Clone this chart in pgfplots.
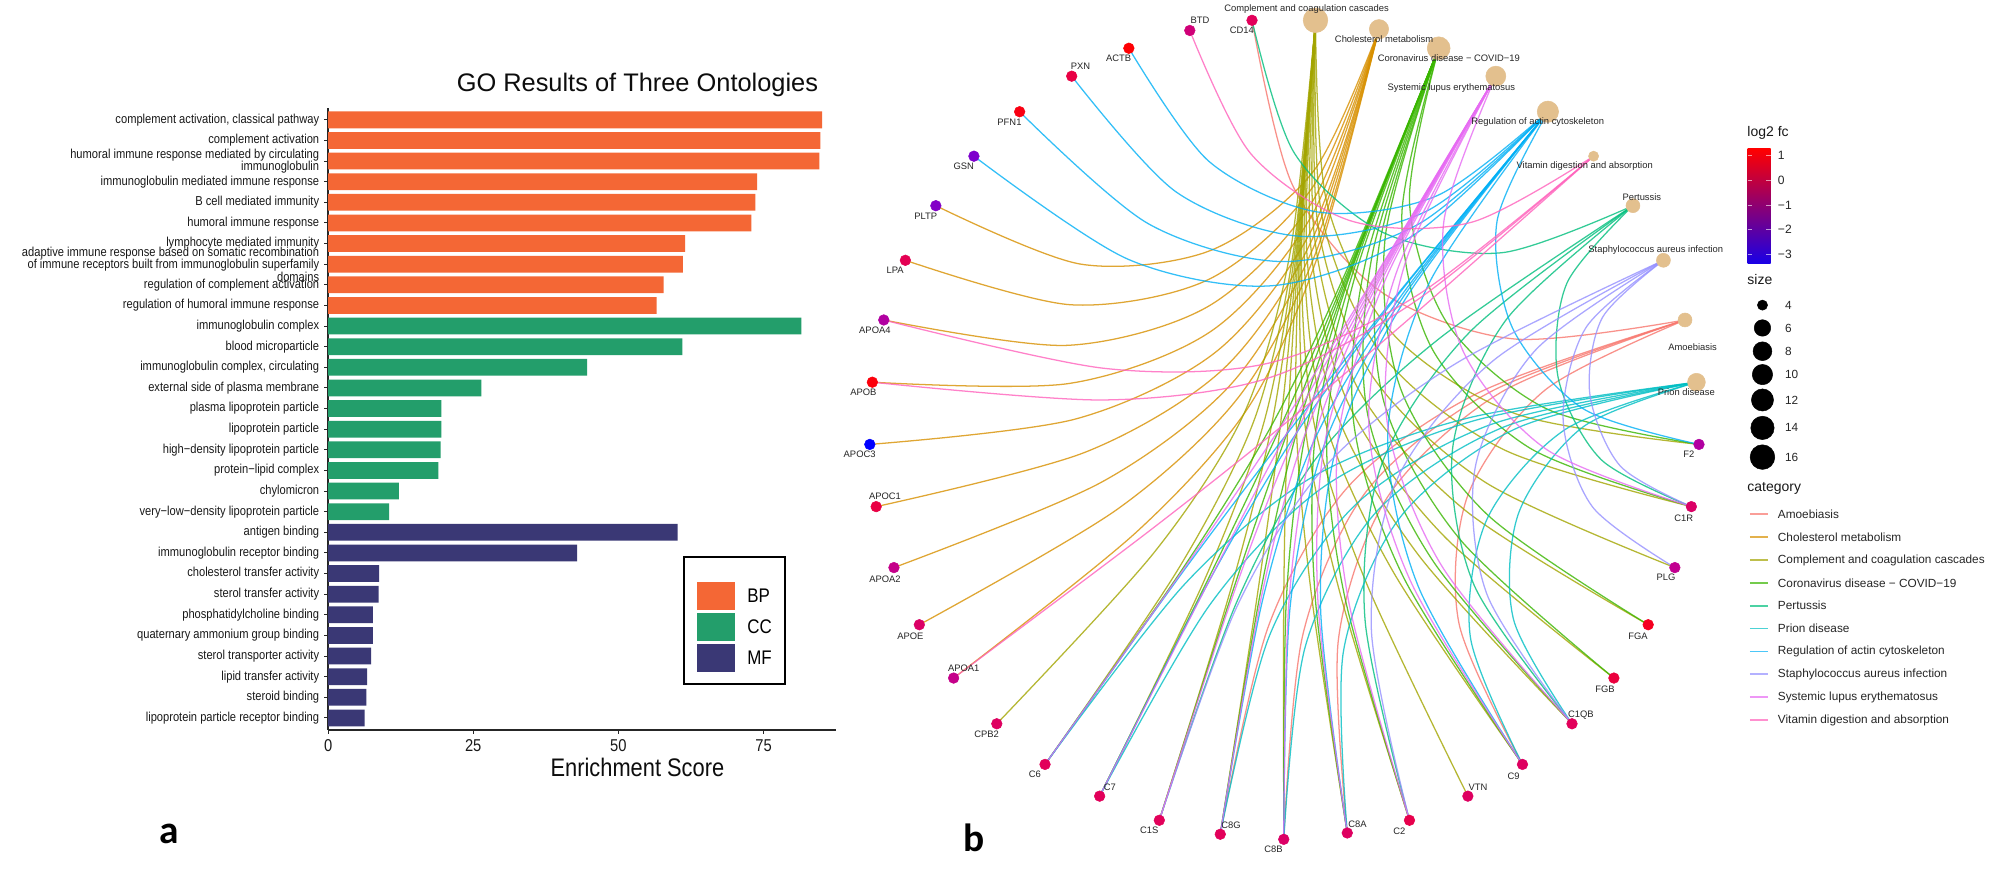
\documentclass[border=0pt]{standalone}
\usepackage{fontspec}
\usepackage{pgfplots}
\pgfplotsset{compat=1.18}
\setmainfont{Liberation Sans}
\newfontfamily\cond[FakeStretch=0.86]{Liberation Sans}
\newfontfamily\carl{Carlito}
\definecolor{cBP}{HTML}{F46735}\definecolor{cCC}{HTML}{239E6B}\definecolor{cMF}{HTML}{3A3875}
\definecolor{cAM}{HTML}{F8766D}\definecolor{cCH}{HTML}{D89000}\definecolor{cCO}{HTML}{A3A500}
\definecolor{cCV}{HTML}{39B600}\definecolor{cPT}{HTML}{00BF7D}\definecolor{cPR}{HTML}{00BFC4}
\definecolor{cAC}{HTML}{00B0F6}\definecolor{cST}{HTML}{9590FF}\definecolor{cSL}{HTML}{E76BF3}
\definecolor{cVT}{HTML}{FF62BC}\definecolor{cTan}{HTML}{E3C08E}
\pgfplotsset{
  edge/.style={no markers,smooth,line width=1pt,opacity=.8},
  eAM/.style={edge,color=cAM},eCH/.style={edge,color=cCH},eCO/.style={edge,color=cCO},
  eCV/.style={edge,color=cCV},ePT/.style={edge,color=cPT},ePR/.style={edge,color=cPR},
  eAC/.style={edge,color=cAC},eST/.style={edge,color=cST},eSL/.style={edge,color=cSL},
  eVT/.style={edge,color=cVT},
  catn/.style={only marks,mark=*,color=cTan,mark options={draw=cTan,fill=cTan}},
}
\newcommand{\Lb}[3]{\node[font=\fontsize{7.4}{8}\selectfont,inner sep=0pt,text=black!85] at (axis cs:#1,#2) {#3};}
\newcommand{\Lg}[3]{\node[font=\fontsize{9.3}{10}\selectfont,anchor=west,inner sep=0pt,text=black!85] at (axis cs:#1,#2) {#3};}
\newcommand{\Ky}[3]{\draw[line width=1.3pt,color=#1,opacity=.7] (axis cs:1378,#2) -- (axis cs:1392.7,#2); \Lg{1400}{#2}{#3}}
\begin{document}
\begin{tikzpicture}[x=1pt,y=1pt]
\path[use as bounding box,fill=white] (0,0) rectangle (1568,700);
% ---------- panel a
\begin{axis}[
  at={(258.4pt,125.2pt)},anchor=south west,scale only axis,width=399.6pt,height=489.8pt,
  xmin=0,xmax=87.4,ymin=-0.58,ymax=29.58,
  axis x line*=bottom,axis y line*=left,
  axis line style={-,line width=1.3pt,color=black!85},
  tick style={color=black!85,line width=.8pt},tick align=outside,major tick length=3pt,
  xtick={0,25,50,75},ytick={0,...,29},
  /pgf/number format/assume math mode=true,
  xticklabel style={font=\cond\fontsize{13.5}{14}\selectfont,text=black!90,yshift=-1pt},
  yticklabel style={font=\cond\fontsize{10.2}{9.8}\selectfont,align=right,text=black!90,xshift=-.5pt},
  yticklabels={lipoprotein particle receptor binding,steroid binding,lipid transfer activity,sterol transporter activity,quaternary ammonium group binding,phosphatidylcholine binding,sterol transfer activity,cholesterol transfer activity,immunoglobulin receptor binding,antigen binding,very−low−density lipoprotein particle,chylomicron,protein−lipid complex,high−density lipoprotein particle,lipoprotein particle,plasma lipoprotein particle,external side of plasma membrane,{immunoglobulin complex, circulating},blood microparticle,immunoglobulin complex,regulation of humoral immune response,regulation of complement activation,{adaptive immune response based on somatic recombination\\of immune receptors built from immunoglobulin superfamily\\domains},lymphocyte mediated immunity,humoral immune response,B cell mediated immunity,immunoglobulin mediated immune response,{humoral immune response mediated by circulating\\immunoglobulin},complement activation,{complement activation, classical pathway}},
  clip=false]
\addplot[xbar,bar width=13.2pt,bar shift=0pt,fill=cBP,draw=none] coordinates {
 (85.1,29)(84.8,28)(84.6,27)(73.9,26)(73.6,25)(72.9,24)(61.5,23)(61.1,22)(57.8,21)(56.6,20)};
\addplot[xbar,bar width=13.2pt,bar shift=0pt,fill=cCC,draw=none] coordinates {
 (81.5,19)(61,18)(44.6,17)(26.4,16)(19.5,15)(19.5,14)(19.4,13)(19,12)(12.2,11)(10.5,10)};
\addplot[xbar,bar width=13.2pt,bar shift=0pt,fill=cMF,draw=none] coordinates {
 (60.2,9)(42.9,8)(8.8,7)(8.7,6)(7.7,5)(7.7,4)(7.4,3)(6.7,2)(6.6,1)(6.3,0)};
\end{axis}
% ---------- panel b: network, coordinates measured from the centre of the ring
\begin{axis}[
  at={(0pt,0pt)},anchor=south west,scale only axis,width=1568pt,height=700pt,
  xmin=-1011,xmax=557,ymin=-339,ymax=361,y dir=reverse,axis lines=none,clip=false,
  colormap={fc}{rgb255(0pt)=(0,0,255) rgb255(137pt)=(125,0,205) rgb255(237pt)=(190,0,150) rgb255(337pt)=(226,0,90) rgb255(462pt)=(255,0,0)},
  point meta min=-3.37,point meta max=1.25]
% Amoebiasis
\addplot[eAM] coordinates {(-25,-323)(7,-193)(77,-109)(182,-72)(316,-87)};
\addplot[eAM] coordinates {(-50,318)(-12,154)(51,44)(154,-30)(316,-87)};
\addplot[eAM] coordinates {(0,322)(15,161)(65,48)(162,-30)(316,-87)};
\addplot[eAM] coordinates {(50,317)(43,165)(82,52)(171,-30)(316,-87)};
\addplot[eAM] coordinates {(188,263)(138,152)(145,51)(206,-32)(316,-87)};
% Cholesterol metabolism
\addplot[eCH] coordinates {(-274,-177)(-160,-131)(-57,-142)(24,-205)(75,-316)};
\addplot[eCH] coordinates {(-298,-134)(-168,-99)(-59,-119)(23,-192)(75,-316)};
\addplot[eCH] coordinates {(-315,-87)(-171,-67)(-59,-98)(23,-181)(75,-316)};
\addplot[eCH] coordinates {(-324,-38)(-169,-37)(-56,-79)(23,-171)(75,-316)};
\addplot[eCH] coordinates {(-326,11)(-164,-9)(-52,-63)(24,-162)(75,-316)};
\addplot[eCH] coordinates {(-321,60)(-156,17)(-47,-49)(24,-154)(75,-316)};
\addplot[eCH] coordinates {(-307,108)(-144,41)(-41,-37)(25,-148)(75,-316)};
\addplot[eCH] coordinates {(-287,153)(-131,62)(-35,-27)(26,-142)(75,-316)};
\addplot[eCH] coordinates {(-260,195)(-116,80)(-28,-18)(27,-138)(75,-316)};
% Complement and coagulation cascades
\addplot[eCO] coordinates {(-226,231)(-102,96)(-31,-14)(5,-140)(25,-323)};
\addplot[eCO] coordinates {(-188,263)(-83,109)(-23,-9)(7,-137)(25,-323)};
\addplot[eCO] coordinates {(-145,288)(-63,119)(-16,-5)(8,-135)(25,-323)};
\addplot[eCO] coordinates {(-98,307)(-42,126)(-10,-2)(9,-133)(25,-323)};
\addplot[eCO] coordinates {(-50,318)(-21,131)(-3,-1)(10,-133)(25,-323)};
\addplot[eCO] coordinates {(0,322)(0,132)(3,0)(11,-133)(25,-323)};
\addplot[eCO] coordinates {(50,317)(22,131)(10,-1)(12,-133)(25,-323)};
\addplot[eCO] coordinates {(99,307)(44,127)(17,-2)(13,-135)(25,-323)};
\addplot[eCO] coordinates {(145,288)(65,120)(24,-5)(14,-137)(25,-323)};
\addplot[eCO] coordinates {(188,263)(86,111)(32,-9)(16,-140)(25,-323)};
\addplot[eCO] coordinates {(227,231)(106,98)(41,-15)(18,-143)(25,-323)};
\addplot[eCO] coordinates {(260,195)(125,82)(50,-23)(21,-148)(25,-323)};
\addplot[eCO] coordinates {(287,153)(143,63)(59,-32)(24,-154)(25,-323)};
\addplot[eCO] coordinates {(308,108)(159,41)(69,-44)(27,-161)(25,-323)};
\addplot[eCO] coordinates {(321,60)(173,15)(78,-59)(30,-169)(25,-323)};
\addplot[eCO] coordinates {(327,11)(183,-13)(86,-76)(34,-179)(25,-323)};
% Coronavirus disease - COVID-19
\addplot[eCV] coordinates {(-188,263)(-79,108)(-9,-5)(49,-125)(122,-301)};
\addplot[eCV] coordinates {(-145,288)(-60,118)(-3,-2)(50,-124)(122,-301)};
\addplot[eCV] coordinates {(-98,307)(-40,126)(3,1)(51,-124)(122,-301)};
\addplot[eCV] coordinates {(-50,318)(-19,131)(10,2)(52,-124)(122,-301)};
\addplot[eCV] coordinates {(0,322)(2,134)(17,3)(53,-125)(122,-301)};
\addplot[eCV] coordinates {(50,317)(25,134)(25,2)(55,-126)(122,-301)};
\addplot[eCV] coordinates {(99,307)(48,131)(34,1)(58,-128)(122,-301)};
\addplot[eCV] coordinates {(188,263)(94,115)(55,-7)(65,-135)(122,-301)};
\addplot[eCV] coordinates {(227,231)(117,102)(66,-13)(70,-140)(122,-301)};
\addplot[eCV] coordinates {(260,195)(139,86)(79,-22)(75,-145)(122,-301)};
\addplot[eCV] coordinates {(287,153)(160,66)(92,-33)(80,-153)(122,-301)};
\addplot[eCV] coordinates {(321,60)(194,14)(117,-64)(93,-170)(122,-301)};
\addplot[eCV] coordinates {(327,11)(207,-17)(129,-84)(99,-181)(122,-301)};
% Pertussis
\addplot[ePT] coordinates {(-25,-323)(8,-219)(78,-156)(172,-140)(275,-177)};
\addplot[ePT] coordinates {(-98,307)(-37,135)(27,20)(122,-72)(275,-177)};
\addplot[ePT] coordinates {(99,307)(64,149)(77,27)(146,-77)(275,-177)};
\addplot[ePT] coordinates {(227,231)(150,122)(133,14)(175,-87)(275,-177)};
\addplot[ePT] coordinates {(321,60)(250,23)(216,-42)(223,-116)(275,-177)};
% Prion disease
\addplot[ePR] coordinates {(-188,263)(-78,121)(22,37)(146,-10)(325,-38)};
\addplot[ePR] coordinates {(-145,288)(-58,137)(32,44)(151,-8)(325,-38)};
\addplot[ePR] coordinates {(-50,318)(-11,161)(57,58)(164,-5)(325,-38)};
\addplot[ePR] coordinates {(0,322)(17,170)(73,64)(174,-3)(325,-38)};
\addplot[ePR] coordinates {(50,317)(47,174)(92,68)(184,-2)(325,-38)};
\addplot[ePR] coordinates {(188,263)(147,163)(160,70)(222,-1)(325,-38)};
\addplot[ePR] coordinates {(227,231)(181,149)(185,65)(236,-3)(325,-38)};
% Regulation of actin cytoskeleton
\addplot[eAC] coordinates {(-122,-301)(-59,-212)(27,-172)(121,-185)(208,-251)};
\addplot[eAC] coordinates {(-167,-279)(-85,-188)(12,-153)(113,-173)(208,-251)};
\addplot[eAC] coordinates {(-208,-251)(-107,-163)(0,-133)(107,-163)(208,-251)};
\addplot[eAC] coordinates {(-244,-216)(-123,-135)(-9,-114)(101,-153)(208,-251)};
\addplot[eAC] coordinates {(327,11)(236,-17)(180,-81)(168,-165)(208,-251)};
\addplot[eAC] coordinates {(188,263)(106,123)(82,2)(115,-117)(208,-251)};
\addplot[eAC] coordinates {(-188,263)(-77,108)(3,2)(86,-103)(208,-251)};
\addplot[eAC] coordinates {(-145,288)(-59,119)(8,5)(87,-103)(208,-251)};
\addplot[eAC] coordinates {(-50,318)(-17,135)(23,10)(91,-104)(208,-251)};
\addplot[eAC] coordinates {(0,322)(5,139)(32,11)(94,-105)(208,-251)};
\addplot[eAC] coordinates {(50,317)(29,140)(42,11)(98,-107)(208,-251)};
% Staphylococcus aureus infection
\addplot[eST] coordinates {(-98,307)(-37,139)(33,28)(136,-53)(299,-134)};
\addplot[eST] coordinates {(321,60)(265,28)(241,-29)(251,-89)(299,-134)};
\addplot[eST] coordinates {(227,231)(160,129)(151,28)(198,-63)(299,-134)};
\addplot[eST] coordinates {(99,307)(69,157)(89,39)(165,-55)(299,-134)};
\addplot[eST] coordinates {(308,108)(243,60)(220,-9)(238,-81)(299,-134)};
% Systemic lupus erythematosus
\addplot[eSL] coordinates {(321,60)(207,15)(141,-63)(126,-164)(167,-279)};
\addplot[eSL] coordinates {(227,231)(124,106)(81,-10)(96,-133)(167,-279)};
\addplot[eSL] coordinates {(-98,307)(-39,127)(9,4)(70,-114)(167,-279)};
\addplot[eSL] coordinates {(99,307)(51,134)(43,5)(81,-121)(167,-279)};
\addplot[eSL] coordinates {(-188,263)(-78,108)(-3,-2)(68,-115)(167,-279)};
\addplot[eSL] coordinates {(-145,288)(-59,119)(3,1)(69,-115)(167,-279)};
\addplot[eSL] coordinates {(-50,318)(-18,133)(16,5)(72,-115)(167,-279)};
\addplot[eSL] coordinates {(0,322)(4,136)(24,6)(74,-116)(167,-279)};
\addplot[eSL] coordinates {(50,317)(27,136)(33,6)(77,-118)(167,-279)};
\addplot[eSL] coordinates {(188,263)(100,119)(67,-3)(90,-128)(167,-279)};
% Vitamin digestion and absorption
\addplot[eVT] coordinates {(-74,-315)(-26,-218)(53,-165)(148,-164)(244,-216)};
\addplot[eVT] coordinates {(-315,-87)(-142,-49)(-12,-53)(106,-107)(244,-216)};
\addplot[eVT] coordinates {(-324,-38)(-143,-24)(-13,-41)(104,-102)(244,-216)};
\addplot[eVT] coordinates {(-260,195)(-107,80)(-2,-3)(100,-89)(244,-216)};
% pathway nodes
\addplot[catn,mark size=9.7pt] coordinates {(25,-323)};
\addplot[catn,mark size=7.6pt] coordinates {(75,-316)};
\addplot[catn,mark size=9pt] coordinates {(122,-301)};
\addplot[catn,mark size=7.9pt] coordinates {(167,-279)};
\addplot[catn,mark size=8.4pt] coordinates {(208,-251)};
\addplot[catn,mark size=4pt] coordinates {(244,-216)};
\addplot[catn,mark size=5.5pt] coordinates {(275,-177)};
\addplot[catn,mark size=5.5pt] coordinates {(299,-134)};
\addplot[catn,mark size=5.5pt] coordinates {(316,-87)};
\addplot[catn,mark size=7pt] coordinates {(325,-38)};
% gene nodes: x, y, log2 fc
\addplot[scatter,only marks,mark=*,mark size=4.2pt,scatter src=explicit,
  scatter/use mapped color={draw=mapped color,fill=mapped color}] table[meta=fc] {
x y fc
-25 -323 0
-74 -315 -0.5
-122 -301 1.2
-167 -279 0.3
-208 -251 1.0
-244 -216 -2
-274 -177 -1.9
-298 -134 0.1
-315 -87 -1.2
-324 -38 1.1
-326 11 -3.37
-321 60 0.3
-307 108 -0.8
-287 153 -0.2
-260 195 -0.8
-226 231 -0.1
-188 263 0
-145 288 0
-98 307 0
-50 318 0
0 322 -0.2
50 317 -0.1
99 307 0.2
145 288 -0.1
188 263 -0.1
227 231 0
260 195 0.4
287 153 0.8
308 108 -0.9
321 60 -0.2
327 11 -1.2
};
\end{axis}
% ---------- texts and keys, in the picture's own coordinates
\begin{axis}[
  at={(0pt,0pt)},anchor=south west,scale only axis,width=1568pt,height=700pt,
  xmin=0,xmax=1568,ymin=0,ymax=700,y dir=reverse,axis lines=none,clip=false]
\node[font=\fontsize{20}{22}\selectfont,inner sep=0pt,text=black!95] at (axis cs:502,67) {GO Results of Three Ontologies};
\node[font=\cond\fontsize{20}{22}\selectfont,inner sep=0pt,text=black!95] at (axis cs:502,604) {Enrichment Score};
\node[font=\carl\bfseries\fontsize{31}{32}\selectfont,inner sep=0pt] at (axis cs:133,657) {a};
\node[font=\carl\bfseries\fontsize{31}{32}\selectfont,inner sep=0pt] at (axis cs:767,660) {b};
% legend of panel a
\draw[line width=1.6pt,fill=white] (axis cs:539,439) rectangle (axis cs:618,539);
\fill[cBP] (axis cs:548.8,458.3) rectangle (axis cs:578.7,480.3);
\fill[cCC] (axis cs:548.8,482.4) rectangle (axis cs:578.7,504.5);
\fill[cMF] (axis cs:548.8,506.9) rectangle (axis cs:578.7,529);
\node[font=\cond\fontsize{15.5}{16}\selectfont,anchor=west,inner sep=0pt] at (axis cs:588.4,469.3) {BP};
\node[font=\cond\fontsize{15.5}{16}\selectfont,anchor=west,inner sep=0pt] at (axis cs:588.4,493.4) {CC};
\node[font=\cond\fontsize{15.5}{16}\selectfont,anchor=west,inner sep=0pt] at (axis cs:588.4,518) {MF};
% gene labels
\Lb{978}{24}{CD14}\Lb{945}{16}{BTD}\Lb{881}{46}{ACTB}\Lb{851}{52}{PXN}\Lb{795}{96}{PFN1}
\Lb{759}{131}{GSN}\Lb{729}{170}{PLTP}\Lb{705}{213}{LPA}\Lb{689}{260}{APOA4}\Lb{680}{309}{APOB}
\Lb{677}{358}{APOC3}\Lb{697}{391}{APOC1}\Lb{697}{456}{APOA2}\Lb{717}{501}{APOE}\Lb{759}{526}{APOA1}
\Lb{777}{578}{CPB2}\Lb{815}{610}{C6}\Lb{874}{620}{C7}\Lb{905}{654}{C1S}\Lb{969.5}{650}{C8G}
\Lb{1003}{669}{C8B}\Lb{1069}{649}{C8A}\Lb{1102}{655}{C2}\Lb{1164}{620}{VTN}\Lb{1192}{611}{C9}
\Lb{1245}{563}{C1QB}\Lb{1264}{543}{FGB}\Lb{1290}{501}{FGA}\Lb{1312}{455}{PLG}\Lb{1326}{408}{C1R}\Lb{1330}{358}{F2}
% pathway labels
\Lb{1029}{7}{Complement and coagulation cascades}\Lb{1090}{31}{Cholesterol metabolism}
\Lb{1141}{46}{Coronavirus disease − COVID−19}\Lb{1143}{69}{Systemic lupus erythematosus}
\Lb{1211}{96}{Regulation of actin cytoskeleton}\Lb{1248}{131}{Vitamin digestion and absorption}
\Lb{1293}{155}{Pertussis}\Lb{1304}{197}{Staphylococcus aureus infection}
\Lb{1333}{273}{Amoebiasis}\Lb{1328}{309}{Prion disease}
% colour scale
\node[font=\fontsize{11}{12}\selectfont,anchor=west,inner sep=0pt,text=black!90] at (axis cs:1376,105) {log2 fc};
\path[bottom color=blue!90!red,middle color=black!0!cMF!0!white!0!cAC!0!red!77!blue,top color=red] (axis cs:1376.4,117.3) rectangle (axis cs:1394.5,207.3);
\foreach \yy/\tt in {122.3/1,141.7/0,161.4/−1,180.6/−2,200/−3}{
  \edef\tmp{\noexpand\draw[white,opacity=.6,line width=.6pt] (axis cs:1376.4,\yy) -- (axis cs:1380,\yy) (axis cs:1391,\yy) -- (axis cs:1394.5,\yy);
  \noexpand\node[font=\noexpand\fontsize{9.5}{10}\noexpand\selectfont,anchor=west,inner sep=0pt,text=black!85] at (axis cs:1400,\yy) {\tt};}\tmp}
% size key
\node[font=\fontsize{11}{12}\selectfont,anchor=west,inner sep=0pt,text=black!90] at (axis cs:1376,220.5) {size};
\addplot[only marks,mark=*,black,mark size=4pt] coordinates {(1388,240.3)};
\addplot[only marks,mark=*,black,mark size=6.5pt] coordinates {(1388,258.3)};
\addplot[only marks,mark=*,black,mark size=7.4pt] coordinates {(1388,276.6)};
\addplot[only marks,mark=*,black,mark size=8pt] coordinates {(1388,295)};
\addplot[only marks,mark=*,black,mark size=8.7pt] coordinates {(1388,315)};
\addplot[only marks,mark=*,black,mark size=9.2pt] coordinates {(1388,337)};
\addplot[only marks,mark=*,black,mark size=9.7pt] coordinates {(1388,360)};
\Lg{1405.6}{240.3}{4}\Lg{1405.6}{258.3}{6}\Lg{1405.6}{276.6}{8}\Lg{1405.6}{295}{10}\Lg{1405.6}{315}{12}\Lg{1405.6}{337}{14}\Lg{1405.6}{360}{16}
% category key
\node[font=\fontsize{11}{12}\selectfont,anchor=west,inner sep=0pt,text=black!90] at (axis cs:1376,385) {category};
\Ky{cAM}{405}{Amoebiasis}\Ky{cCH}{422.8}{Cholesterol metabolism}\Ky{cCO}{441}{Complement and coagulation cascades}
\Ky{cCV}{459}{Coronavirus disease − COVID−19}\Ky{cPT}{477}{Pertussis}\Ky{cPR}{495}{Prion disease}
\Ky{cAC}{513}{Regulation of actin cytoskeleton}\Ky{cST}{531}{Staphylococcus aureus infection}
\Ky{cSL}{549}{Systemic lupus erythematosus}\Ky{cVT}{567}{Vitamin digestion and absorption}
\end{axis}
\end{tikzpicture}
\end{document}
